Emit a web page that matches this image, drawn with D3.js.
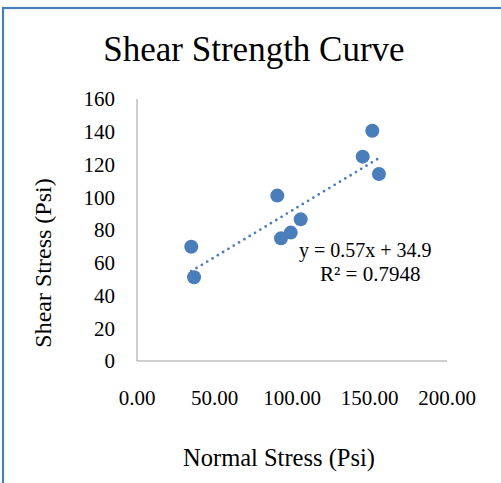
<!DOCTYPE html>
<html>
<head>
<meta charset="utf-8">
<script src="https://cdn.jsdelivr.net/npm/d3@7"></script>
<style>
  body { margin: 0; background: #fff; }
  svg { display: block; }
</style>
</head>
<body>
<svg id="chart"></svg>
<script>
// data
const normalStress = [151.8, 145.6, 156.1, 90.5, 105.6, 99.2, 92.9, 35.0, 36.8]
const shearStress = [140.6, 124.8, 114.2, 101.0, 86.5, 78.4, 74.9, 69.8, 51.1]
const yTicks = [0, 20, 40, 60, 80, 100, 120, 140, 160]
const xTicks = [0, 50, 100, 150, 200]
const trendSlope = 0.57
const trendIntercept = 34.9
const trendLabel = ['y = 0.57x + 34.9', 'R\u00b2 = 0.7948']

const width = 501
const height = 483
const blue = '#4a7ebb'
const font = '"Liberation Serif", "Times New Roman", serif'

const svg = d3.select('#chart')
    .attr('width', width)
    .attr('height', height)
    .style('font-family', font)

// chart area border (only top and left show)
svg.append('rect')
    .attr('x', 3)
    .attr('y', 8)
    .attr('width', 560)
    .attr('height', 540)
    .attr('fill', 'none')
    .attr('stroke', blue)
    .attr('stroke-width', 2.2)

const x = d3.scaleLinear().domain([0, 200]).range([137, 447])
const y = d3.scaleLinear().domain([0, 160]).range([361, 99])

svg.append('text')
    .attr('x', 254)
    .attr('y', 61)
    .attr('text-anchor', 'middle')
    .style('font-size', '35px')
    .text('Shear Strength Curve')

// axes lines
svg.append('line')
    .attr('x1', x(0)).attr('x2', x(0))
    .attr('y1', y(160)).attr('y2', y(0))
    .attr('stroke', '#bfbfbf').attr('stroke-width', 1.5)
svg.append('line')
    .attr('x1', x(0)).attr('x2', x(200))
    .attr('y1', y(0)).attr('y2', y(0))
    .attr('stroke', '#bfbfbf').attr('stroke-width', 1.5)

svg.selectAll('.ytick')
    .data(yTicks)
    .enter()
    .append('text')
    .attr('class', 'ytick')
    .attr('x', 115)
    .attr('y', d => y(d))
    .attr('dy', '0.35em')
    .attr('text-anchor', 'end')
    .style('font-size', '21px')
    .text(d => d)

svg.selectAll('.xtick')
    .data(xTicks)
    .enter()
    .append('text')
    .attr('class', 'xtick')
    .attr('x', d => x(d))
    .attr('y', 405)
    .attr('text-anchor', 'middle')
    .style('font-size', '21px')
    .text(d => d3.format('.2f')(d))

svg.append('text')
    .attr('x', 279)
    .attr('y', 466)
    .attr('text-anchor', 'middle')
    .style('font-size', '24.5px')
    .text('Normal Stress (Psi)')

svg.append('text')
    .attr('transform', 'translate(51,263) rotate(-90)')
    .attr('text-anchor', 'middle')
    .style('font-size', '24px')
    .text('Shear Stress (Psi)')

// linear trendline
const xMin = d3.min(normalStress)
const xMax = d3.max(normalStress)
svg.append('line')
    .attr('x1', x(xMin))
    .attr('y1', y(trendIntercept + trendSlope * xMin))
    .attr('x2', x(xMax))
    .attr('y2', y(trendIntercept + trendSlope * xMax))
    .attr('stroke', blue)
    .attr('stroke-width', 2.8)
    .attr('stroke-linecap', 'round')
    .attr('stroke-dasharray', '0 6.2')

svg.selectAll('.dot')
    .data(normalStress.map((d, i) => [d, shearStress[i]]))
    .enter()
    .append('circle')
    .attr('class', 'dot')
    .attr('cx', d => x(d[0]))
    .attr('cy', d => y(d[1]))
    .attr('r', 7)
    .attr('fill', blue)

// trendline label, each line placed at its own left edge
const labelLeft = [299, 320]
svg.selectAll('.eq')
    .data(trendLabel)
    .enter()
    .append('text')
    .attr('class', 'eq')
    .attr('x', (d, i) => labelLeft[i])
    .attr('y', (d, i) => 257 + i * 24)
    .style('font-size', (d, i) => i === 0 ? '20px' : '21px')
    .text(d => d)
</script>
</body>
</html>
